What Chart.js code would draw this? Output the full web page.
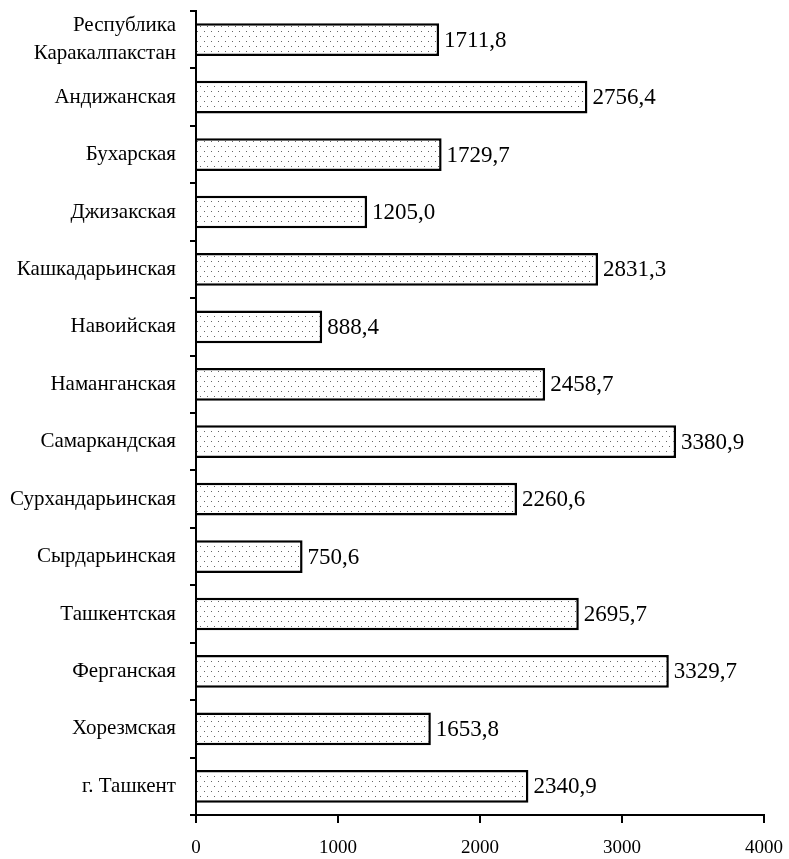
<!DOCTYPE html>
<html>
<head>
<meta charset="utf-8">
<script src="https://cdn.jsdelivr.net/npm/chart.js@4"></script>
<style>
  body { margin: 0; background: #fff; }
</style>
</head>
<body>
<canvas id="canvas_bar" width="789" height="859"></canvas>
<script>
const labels_bar = [
  ['Республика', 'Каракалпакстан'], 'Андижанская', 'Бухарская', 'Джизакская',
  'Кашкадарьинская', 'Навоийская', 'Наманганская', 'Самаркандская',
  'Сурхандарьинская', 'Сырдарьинская', 'Ташкентская', 'Ферганская',
  'Хорезмская', 'г. Ташкент'
];
const values = [1711.8, 2756.4, 1729.7, 1205.0, 2831.3, 888.4, 2458.7, 3380.9, 2260.6, 750.6, 2695.7, 3329.7, 1653.8, 2340.9];
const xTicks = [0, 1000, 2000, 3000, 4000];

// dotted fill like the print
function makePattern() {
  const c = document.createElement('canvas');
  c.width = 14; c.height = 10;
  const ctx = c.getContext('2d');
  ctx.fillStyle = '#fff';
  ctx.fillRect(0, 0, 14, 10);
  ctx.fillStyle = '#666';
  ctx.fillRect(1, 1, 1, 1);
  ctx.fillRect(8, 1, 1, 1);
  ctx.fillRect(4, 6, 1, 1);
  ctx.fillRect(11, 6, 1, 1);
  return ctx.createPattern(c, 'repeat');
}

// value labels at the end of each bar
const valueLabels = {
  id: 'valueLabels',
  afterDatasetsDraw(chart) {
    const ctx = chart.ctx;
    const meta = chart.getDatasetMeta(0);
    ctx.save();
    ctx.font = '23px "Liberation Serif", serif';
    ctx.fillStyle = '#000';
    ctx.textAlign = 'left';
    ctx.textBaseline = 'middle';
    meta.data.forEach((bar, i) => {
      const txt = values[i].toFixed(1).replace('.', ',');
      ctx.fillText(txt, bar.x + 5, bar.y + 1);
    });
    ctx.restore();
  }
};

const data_bar = {
  labels: labels_bar,
  datasets: [{
    data: values,
    backgroundColor: makePattern(),
    borderColor: '#000',
    borderWidth: { top: 2.5, bottom: 2.5, right: 2.5, left: 0 },
    borderSkipped: 'start',
    categoryPercentage: 1,
    barPercentage: 0.57,
  }]
};

const config_bar = {
  type: 'bar',
  data: data_bar,
  options: {
    indexAxis: 'y',
    responsive: false,
    animation: false,
    layout: { padding: { top: 11, right: 25, left: 0, bottom: 0 } },
    plugins: { legend: { display: false }, tooltip: { enabled: false } },
    scales: {
      x: {
        min: 0,
        max: 4000,
        afterBuildTicks: s => { s.ticks = xTicks.map(v => ({ value: v })); },
        afterFit: s => { s.height = 44; s.paddingLeft = 0; s.paddingRight = 0; },
        border: { color: '#000', width: 2 },
        grid: { drawOnChartArea: false, drawTicks: true, tickLength: 8, color: '#000', lineWidth: 2 },
        ticks: {
          color: '#000',
          padding: 14,
          maxRotation: 0,
          font: { family: '"Liberation Serif", serif', size: 19 },
          callback: v => String(v)
        }
      },
      y: {
        afterFit: s => { s.width = 196; s.paddingTop = 0; s.paddingBottom = 0; },
        border: { color: '#000', width: 2 },
        grid: { drawOnChartArea: false, drawTicks: true, tickLength: 6, color: '#000', lineWidth: 2, offset: true },
        ticks: {
          color: '#000',
          padding: 14,
          autoSkip: false,
          font: { family: '"Liberation Serif", serif', size: 21, lineHeight: 1.35 }
        }
      }
    }
  },
  plugins: [valueLabels]
};

const canvas_bar = document.getElementById('canvas_bar');
const chart_bar = new Chart(canvas_bar, config_bar);
</script>
</body>
</html>
